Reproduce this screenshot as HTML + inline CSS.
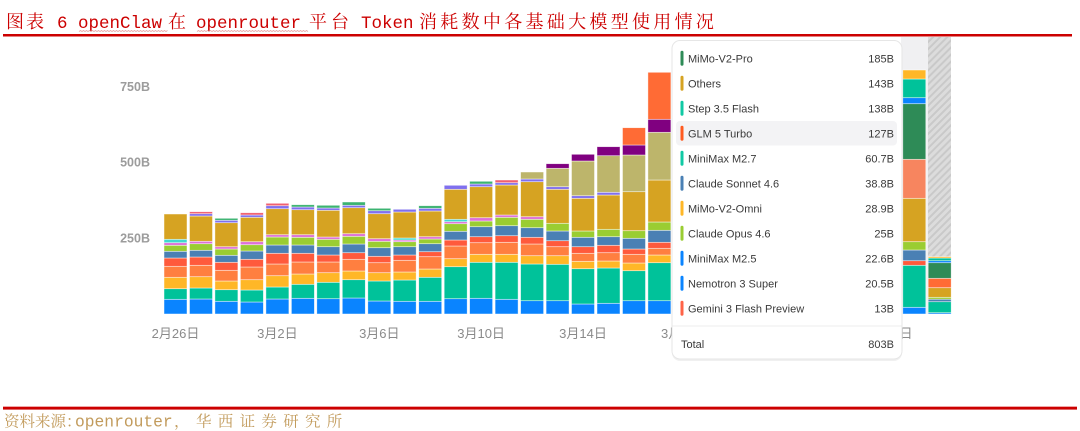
<!DOCTYPE html>
<html>
<head>
<meta charset="utf-8">
<style>
html,body{margin:0;padding:0;background:#fff;}
body{width:1080px;height:431px;overflow:hidden;position:relative;}
svg{display:block;}
.bars rect{stroke:#ffffff;stroke-width:0.7;stroke-opacity:0.65;}
.B{fill:#0a84ff}.T{fill:#00c29a}.Y{fill:#ffb727}.O{fill:#ff7f40}.R{fill:#ff5a3c}
.S{fill:#4a80b4}.G{fill:#9acd32}.P{fill:#dd70d8}.C{fill:#40d9d0}.D{fill:#d6a322}
.M{fill:#8070ee}.RT{fill:#f06070}.GT{fill:#3cb371}.K{fill:#bdb56b}.V{fill:#800080}
.F{fill:#ff6b35}.DG{fill:#2e8b57}.SA{fill:#f7855f}
.ttl{fill:#cc0000;}
.cjk{font-family:"Liberation Serif","Noto Serif CJK SC",serif;font-size:18px;}
.lat{font-family:"Liberation Mono",monospace;font-size:17.5px;}
.ax{font-family:"Liberation Sans","Noto Sans CJK SC",sans-serif;font-size:13px;fill:#8a8a8a;}
.ay{font-family:"Liberation Sans",sans-serif;font-size:12.5px;font-weight:bold;fill:#9c9c9c;}
.tt{font-family:"Liberation Sans",sans-serif;font-size:11px;fill:#3a3a3a;}
.ft{fill:#c29b5c;}
.fc{font-family:"Liberation Serif","Noto Serif CJK SC",serif;font-size:15.5px;}
.fl{font-family:"Liberation Mono",monospace;font-size:16.3px;}
</style>
</head>
<body>
<svg width="1080" height="431" viewBox="0 0 1080 431" xmlns="http://www.w3.org/2000/svg">
<defs>
<pattern id="hatch" width="5" height="5" patternUnits="userSpaceOnUse" patternTransform="rotate(45)">
<rect width="5" height="5" fill="#dcdcdc"/>
<rect width="2" height="5" fill="#c9c9c9"/>
</pattern>
</defs>

<!-- Title -->
<text class="ttl cjk" x="6" y="28" letter-spacing="2">图表</text>
<text class="ttl lat" x="57" y="28">6</text>
<text class="ttl lat" x="78" y="28">openClaw</text>
<text class="ttl cjk" x="168" y="28">在</text>
<text class="ttl lat" x="196" y="28">openrouter</text>
<text class="ttl cjk" x="309" y="28" letter-spacing="4">平台</text>
<text class="ttl lat" x="361" y="28">Token</text>
<text class="ttl cjk" x="419" y="28" letter-spacing="3.3">消耗数中各基础大模型使用情况</text>
<path d="M79 31.5 l1.5 -1 l1.5 1 l1.5 -1 l1.5 1 l1.5 -1 l1.5 1 l1.5 -1 l1.5 1 l1.5 -1 l1.5 1 l1.5 -1 l1.5 1 l1.5 -1 l1.5 1 l1.5 -1 l1.5 1 l1.5 -1 l1.5 1 l1.5 -1 l1.5 1 l1.5 -1 l1.5 1 l1.5 -1 l1.5 1 l1.5 -1 l1.5 1 l1.5 -1 l1.5 1 l1.5 -1 l1.5 1 l1.5 -1 l1.5 1 l1.5 -1 l1.5 1 l1.5 -1 l1.5 1 l1.5 -1 l1.5 1 l1.5 -1 l1.5 1 l1.5 -1 l1.5 1 l1.5 -1 l1.5 1 l1.5 -1 l1.5 1 l1.5 -1 l1.5 1 l1.5 -1 l1.5 1 l1.5 -1 l1.5 1 l1.5 -1 l1.5 1 l1.5 -1 l1.5 1 l1.5 -1 l1.5 1 l1.5 -1" fill="none" stroke="#e8a4a4" stroke-width="0.8"/>
<path d="M197 31.5 l1.5 -1 l1.5 1 l1.5 -1 l1.5 1 l1.5 -1 l1.5 1 l1.5 -1 l1.5 1 l1.5 -1 l1.5 1 l1.5 -1 l1.5 1 l1.5 -1 l1.5 1 l1.5 -1 l1.5 1 l1.5 -1 l1.5 1 l1.5 -1 l1.5 1 l1.5 -1 l1.5 1 l1.5 -1 l1.5 1 l1.5 -1 l1.5 1 l1.5 -1 l1.5 1 l1.5 -1 l1.5 1 l1.5 -1 l1.5 1 l1.5 -1 l1.5 1 l1.5 -1 l1.5 1 l1.5 -1 l1.5 1 l1.5 -1 l1.5 1 l1.5 -1 l1.5 1 l1.5 -1 l1.5 1 l1.5 -1 l1.5 1 l1.5 -1 l1.5 1 l1.5 -1 l1.5 1 l1.5 -1 l1.5 1 l1.5 -1 l1.5 1 l1.5 -1 l1.5 1 l1.5 -1 l1.5 1 l1.5 -1 l1.5 1 l1.5 -1 l1.5 1 l1.5 -1 l1.5 1 l1.5 -1 l1.5 1 l1.5 -1 l1.5 1 l1.5 -1 l1.5 1 l1.5 -1 l1.5 1 l1.5 -1 l1.5 1" fill="none" stroke="#e8a4a4" stroke-width="0.8"/>
<rect x="3" y="34" width="1069" height="2.5" fill="#cc0000"/>

<!-- Y axis labels -->
<text class="ay" x="150" y="91" text-anchor="end">750B</text>
<text class="ay" x="150" y="166.5" text-anchor="end">500B</text>
<text class="ay" x="150" y="242.5" text-anchor="end">250B</text>

<!-- X axis labels -->
<text class="ax" x="175.5" y="338" text-anchor="middle">2月26日</text>
<text class="ax" x="277.4" y="338" text-anchor="middle">3月2日</text>
<text class="ax" x="379.3" y="338" text-anchor="middle">3月6日</text>
<text class="ax" x="481.1" y="338" text-anchor="middle">3月10日</text>
<text class="ax" x="583" y="338" text-anchor="middle">3月14日</text>
<text class="ax" x="684.9" y="338" text-anchor="middle">3月18日</text>
<text class="ax" x="888.7" y="338" text-anchor="middle">3月26日</text>

<!-- hover column & hatched column -->
<rect x="901" y="37" width="27" height="277" fill="#f0f0f2"/>
<rect x="928" y="37" width="23" height="277" fill="url(#hatch)"/>

<g class="bars">
<g transform="translate(164,0)">
<rect class="B" x="0" y="299.3" width="23" height="14.7"/><rect class="T" x="0" y="288.7" width="23" height="10.6"/><rect class="Y" x="0" y="277.3" width="23" height="11.4"/><rect class="O" x="0" y="266.3" width="23" height="11"/><rect class="R" x="0" y="258" width="23" height="8.3"/><rect class="S" x="0" y="251.3" width="23" height="6.7"/><rect class="G" x="0" y="245.3" width="23" height="6"/><rect class="P" x="0" y="242.7" width="23" height="2.6"/><rect class="C" x="0" y="239.3" width="23" height="3.4"/><rect class="D" x="0" y="214" width="23" height="25.3"/>
</g>
<g transform="translate(189.5,0)">
<rect class="B" x="0" y="299" width="23" height="15"/><rect class="T" x="0" y="288" width="23" height="11"/><rect class="Y" x="0" y="276.7" width="23" height="11.3"/><rect class="O" x="0" y="265.3" width="23" height="11.4"/><rect class="R" x="0" y="257" width="23" height="8.3"/><rect class="S" x="0" y="250.3" width="23" height="6.7"/><rect class="G" x="0" y="243.7" width="23" height="6.6"/><rect class="P" x="0" y="241.3" width="23" height="2.4"/><rect class="D" x="0" y="216" width="23" height="25.3"/><rect class="M" x="0" y="213.7" width="23" height="2.3"/><rect class="RT" x="0" y="211.7" width="23" height="2"/>
</g>
<g transform="translate(214.9,0)">
<rect class="B" x="0" y="301.3" width="23" height="12.7"/><rect class="T" x="0" y="289.7" width="23" height="11.6"/><rect class="Y" x="0" y="281" width="23" height="8.7"/><rect class="O" x="0" y="270.3" width="23" height="10.7"/><rect class="R" x="0" y="262.3" width="23" height="8"/><rect class="S" x="0" y="255.3" width="23" height="7"/><rect class="G" x="0" y="249" width="23" height="6.3"/><rect class="P" x="0" y="246.7" width="23" height="2.3"/><rect class="D" x="0" y="222.7" width="23" height="24"/><rect class="M" x="0" y="220.3" width="23" height="2.4"/><rect class="GT" x="0" y="218.3" width="23" height="2"/>
</g>
<g transform="translate(240.4,0)">
<rect class="B" x="0" y="302" width="23" height="12"/><rect class="T" x="0" y="290" width="23" height="12"/><rect class="Y" x="0" y="279.7" width="23" height="10.3"/><rect class="O" x="0" y="267" width="23" height="12.7"/><rect class="R" x="0" y="259.3" width="23" height="7.7"/><rect class="S" x="0" y="251" width="23" height="8.3"/><rect class="G" x="0" y="244.7" width="23" height="6.3"/><rect class="P" x="0" y="241.7" width="23" height="3"/><rect class="D" x="0" y="217.3" width="23" height="24.4"/><rect class="M" x="0" y="215" width="23" height="2.3"/><rect class="RT" x="0" y="212.7" width="23" height="2.3"/>
</g>
<g transform="translate(265.9,0)">
<rect class="B" x="0" y="299" width="23" height="15"/><rect class="T" x="0" y="287" width="23" height="12"/><rect class="Y" x="0" y="275.7" width="23" height="11.3"/><rect class="O" x="0" y="264" width="23" height="11.7"/><rect class="R" x="0" y="253.3" width="23" height="10.7"/><rect class="S" x="0" y="245" width="23" height="8.3"/><rect class="G" x="0" y="237" width="23" height="8"/><rect class="P" x="0" y="234.7" width="23" height="2.3"/><rect class="D" x="0" y="208.7" width="23" height="26"/><rect class="M" x="0" y="205.7" width="23" height="3"/><rect class="RT" x="0" y="203.3" width="23" height="2.4"/>
</g>
<g transform="translate(291.4,0)">
<rect class="B" x="0" y="298.3" width="23" height="15.7"/><rect class="T" x="0" y="284.3" width="23" height="14"/><rect class="Y" x="0" y="274" width="23" height="10.3"/><rect class="O" x="0" y="262" width="23" height="12"/><rect class="R" x="0" y="253.3" width="23" height="8.7"/><rect class="S" x="0" y="245" width="23" height="8.3"/><rect class="G" x="0" y="237.3" width="23" height="7.7"/><rect class="P" x="0" y="234.7" width="23" height="2.6"/><rect class="D" x="0" y="209.7" width="23" height="25"/><rect class="M" x="0" y="207" width="23" height="2.7"/><rect class="GT" x="0" y="204.7" width="23" height="2.3"/>
</g>
<g transform="translate(316.8,0)">
<rect class="B" x="0" y="298.7" width="23" height="15.3"/><rect class="T" x="0" y="282.3" width="23" height="16.4"/><rect class="Y" x="0" y="272.7" width="23" height="9.6"/><rect class="O" x="0" y="262" width="23" height="10.7"/><rect class="R" x="0" y="255" width="23" height="7"/><rect class="S" x="0" y="246.7" width="23" height="8.3"/><rect class="G" x="0" y="239.3" width="23" height="7.4"/><rect class="P" x="0" y="237" width="23" height="2.3"/><rect class="D" x="0" y="210.3" width="23" height="26.7"/><rect class="M" x="0" y="208" width="23" height="2.3"/><rect class="GT" x="0" y="205.3" width="23" height="2.7"/>
</g>
<g transform="translate(342.3,0)">
<rect class="B" x="0" y="298" width="23" height="16"/><rect class="T" x="0" y="279.7" width="23" height="18.3"/><rect class="Y" x="0" y="271" width="23" height="8.7"/><rect class="O" x="0" y="259.3" width="23" height="11.7"/><rect class="R" x="0" y="252.7" width="23" height="6.6"/><rect class="S" x="0" y="244" width="23" height="8.7"/><rect class="G" x="0" y="236.3" width="23" height="7.7"/><rect class="P" x="0" y="233.7" width="23" height="2.6"/><rect class="D" x="0" y="207.7" width="23" height="26"/><rect class="M" x="0" y="205.3" width="23" height="2.4"/><rect class="GT" x="0" y="202" width="23" height="3.3"/>
</g>
<g transform="translate(367.8,0)">
<rect class="B" x="0" y="301" width="23" height="13"/><rect class="T" x="0" y="281" width="23" height="20"/><rect class="Y" x="0" y="272.7" width="23" height="8.3"/><rect class="O" x="0" y="262.7" width="23" height="10"/><rect class="R" x="0" y="256.3" width="23" height="6.4"/><rect class="S" x="0" y="247.7" width="23" height="8.6"/><rect class="G" x="0" y="241.3" width="23" height="6.4"/><rect class="P" x="0" y="238.7" width="23" height="2.6"/><rect class="D" x="0" y="213.7" width="23" height="25"/><rect class="M" x="0" y="210.7" width="23" height="3"/><rect class="GT" x="0" y="208.3" width="23" height="2.4"/>
</g>
<g transform="translate(393.2,0)">
<rect class="B" x="0" y="301.3" width="23" height="12.7"/><rect class="T" x="0" y="280" width="23" height="21.3"/><rect class="Y" x="0" y="272" width="23" height="8"/><rect class="O" x="0" y="260.3" width="23" height="11.7"/><rect class="R" x="0" y="255" width="23" height="5.3"/><rect class="S" x="0" y="246.7" width="23" height="8.3"/><rect class="G" x="0" y="241.7" width="23" height="5"/><rect class="P" x="0" y="240" width="23" height="1.7"/><rect class="C" x="0" y="238" width="23" height="2"/><rect class="D" x="0" y="212" width="23" height="26"/><rect class="M" x="0" y="209.3" width="23" height="2.7"/>
</g>
<g transform="translate(418.7,0)">
<rect class="B" x="0" y="301.3" width="23" height="12.7"/><rect class="T" x="0" y="277.3" width="23" height="24"/><rect class="Y" x="0" y="269" width="23" height="8.3"/><rect class="O" x="0" y="256.7" width="23" height="12.3"/><rect class="R" x="0" y="251.7" width="23" height="5"/><rect class="S" x="0" y="243.7" width="23" height="8"/><rect class="G" x="0" y="239" width="23" height="4.7"/><rect class="P" x="0" y="236.7" width="23" height="2.3"/><rect class="D" x="0" y="211" width="23" height="25.7"/><rect class="M" x="0" y="208.3" width="23" height="2.7"/><rect class="GT" x="0" y="205.7" width="23" height="2.6"/>
</g>
<g transform="translate(444.2,0)">
<rect class="B" x="0" y="298.7" width="23" height="15.3"/><rect class="T" x="0" y="266.7" width="23" height="32"/><rect class="Y" x="0" y="258.7" width="23" height="8"/><rect class="O" x="0" y="246" width="23" height="12.7"/><rect class="R" x="0" y="240" width="23" height="6"/><rect class="S" x="0" y="231.3" width="23" height="8.7"/><rect class="G" x="0" y="223.7" width="23" height="7.6"/><rect class="P" x="0" y="221.7" width="23" height="2"/><rect class="C" x="0" y="219.3" width="23" height="2.4"/><rect class="D" x="0" y="189.3" width="23" height="30"/><rect class="M" x="0" y="185.3" width="23" height="4"/>
</g>
<g transform="translate(469.6,0)">
<rect class="B" x="0" y="298.3" width="23" height="15.7"/><rect class="T" x="0" y="262.3" width="23" height="36"/><rect class="Y" x="0" y="254.3" width="23" height="8"/><rect class="O" x="0" y="242.7" width="23" height="11.6"/><rect class="R" x="0" y="236.7" width="23" height="6"/><rect class="S" x="0" y="226.7" width="23" height="10"/><rect class="G" x="0" y="221" width="23" height="5.7"/><rect class="P" x="0" y="217.7" width="23" height="3.3"/><rect class="D" x="0" y="186.7" width="23" height="31"/><rect class="M" x="0" y="184" width="23" height="2.7"/><rect class="GT" x="0" y="181.3" width="23" height="2.7"/>
</g>
<g transform="translate(495.1,0)">
<rect class="B" x="0" y="299.3" width="23" height="14.7"/><rect class="T" x="0" y="262.3" width="23" height="37"/><rect class="Y" x="0" y="254.3" width="23" height="8"/><rect class="O" x="0" y="242.3" width="23" height="12"/><rect class="R" x="0" y="235.7" width="23" height="6.6"/><rect class="S" x="0" y="225.7" width="23" height="10"/><rect class="G" x="0" y="217.3" width="23" height="8.4"/><rect class="P" x="0" y="215" width="23" height="2.3"/><rect class="D" x="0" y="185" width="23" height="30"/><rect class="M" x="0" y="182.7" width="23" height="2.3"/><rect class="RT" x="0" y="180" width="23" height="2.7"/>
</g>
<g transform="translate(520.6,0)">
<rect class="B" x="0" y="300.7" width="23" height="13.3"/><rect class="T" x="0" y="264" width="23" height="36.7"/><rect class="Y" x="0" y="255.7" width="23" height="8.3"/><rect class="O" x="0" y="244" width="23" height="11.7"/><rect class="R" x="0" y="237.3" width="23" height="6.7"/><rect class="S" x="0" y="227.7" width="23" height="9.6"/><rect class="G" x="0" y="219.3" width="23" height="8.4"/><rect class="P" x="0" y="216.7" width="23" height="2.6"/><rect class="D" x="0" y="181.7" width="23" height="35"/><rect class="M" x="0" y="179" width="23" height="2.7"/><rect class="K" x="0" y="172" width="23" height="7"/>
</g>
<g transform="translate(546.1,0)">
<rect class="B" x="0" y="300.7" width="23" height="13.3"/><rect class="T" x="0" y="264.3" width="23" height="36.4"/><rect class="Y" x="0" y="255.7" width="23" height="8.6"/><rect class="O" x="0" y="246.7" width="23" height="9"/><rect class="R" x="0" y="240.7" width="23" height="6"/><rect class="S" x="0" y="231" width="23" height="9.7"/><rect class="G" x="0" y="223.3" width="23" height="7.7"/><rect class="D" x="0" y="189.3" width="23" height="34"/><rect class="M" x="0" y="186.7" width="23" height="2.6"/><rect class="K" x="0" y="168.3" width="23" height="18.4"/><rect class="V" x="0" y="163.7" width="23" height="4.6"/>
</g>
<g transform="translate(571.5,0)">
<rect class="B" x="0" y="304" width="23" height="10"/><rect class="T" x="0" y="268.7" width="23" height="35.3"/><rect class="Y" x="0" y="261.3" width="23" height="7.4"/><rect class="O" x="0" y="253.3" width="23" height="8"/><rect class="R" x="0" y="246.7" width="23" height="6.6"/><rect class="S" x="0" y="237.3" width="23" height="9.4"/><rect class="G" x="0" y="231" width="23" height="6.3"/><rect class="D" x="0" y="198.3" width="23" height="32.7"/><rect class="M" x="0" y="195.7" width="23" height="2.6"/><rect class="K" x="0" y="161" width="23" height="34.7"/><rect class="V" x="0" y="154.3" width="23" height="6.7"/>
</g>
<g transform="translate(597,0)">
<rect class="B" x="0" y="303.3" width="23" height="10.7"/><rect class="T" x="0" y="268" width="23" height="35.3"/><rect class="Y" x="0" y="261" width="23" height="7"/><rect class="O" x="0" y="252.7" width="23" height="8.3"/><rect class="R" x="0" y="245.3" width="23" height="7.4"/><rect class="S" x="0" y="236.7" width="23" height="8.6"/><rect class="G" x="0" y="229.3" width="23" height="7.4"/><rect class="D" x="0" y="195" width="23" height="34.3"/><rect class="M" x="0" y="192.3" width="23" height="2.7"/><rect class="K" x="0" y="155.7" width="23" height="36.6"/><rect class="V" x="0" y="146.7" width="23" height="9"/>
</g>
<g transform="translate(622.5,0)">
<rect class="B" x="0" y="300.7" width="23" height="13.3"/><rect class="T" x="0" y="270.7" width="23" height="30"/><rect class="Y" x="0" y="263" width="23" height="7.7"/><rect class="O" x="0" y="254.3" width="23" height="8.7"/><rect class="R" x="0" y="249" width="23" height="5.3"/><rect class="S" x="0" y="238.3" width="23" height="10.7"/><rect class="G" x="0" y="230.7" width="23" height="7.6"/><rect class="D" x="0" y="191.7" width="23" height="39"/><rect class="K" x="0" y="155" width="23" height="36.7"/><rect class="V" x="0" y="145" width="23" height="10"/><rect class="F" x="0" y="127.7" width="23" height="17.3"/>
</g>
<g transform="translate(647.9,0)">
<rect class="B" x="0" y="300.7" width="23" height="13.3"/><rect class="T" x="0" y="262.7" width="23" height="38"/><rect class="Y" x="0" y="255" width="23" height="7.7"/><rect class="O" x="0" y="248.3" width="23" height="6.7"/><rect class="R" x="0" y="242.3" width="23" height="6"/><rect class="S" x="0" y="230.3" width="23" height="12"/><rect class="G" x="0" y="222" width="23" height="8.3"/><rect class="D" x="0" y="180" width="23" height="42"/><rect class="K" x="0" y="132.3" width="23" height="47.7"/><rect class="V" x="0" y="119.3" width="23" height="13"/><rect class="F" x="0" y="72.3" width="23" height="47"/>
</g>
<g transform="translate(902.8,0)">
<rect class="B" x="0" y="307.3" width="23" height="6.7"/><rect class="T" x="0" y="265.3" width="23" height="42"/><rect class="R" x="0" y="260.7" width="23" height="4.6"/><rect class="S" x="0" y="250" width="23" height="10.7"/><rect class="G" x="0" y="241.7" width="23" height="8.3"/><rect class="D" x="0" y="198.3" width="23" height="43.4"/><rect class="SA" x="0" y="159.3" width="23" height="39"/><rect class="DG" x="0" y="103.7" width="23" height="55.6"/><rect class="B" x="0" y="97.7" width="23" height="6"/><rect class="T" x="0" y="79" width="23" height="18.7"/><rect class="Y" x="0" y="70" width="23" height="9"/>
</g>
<g transform="translate(928.2,0)">
<rect class="B" x="0" y="312.7" width="23" height="1.3"/><rect class="T" x="0" y="301.7" width="23" height="11"/><rect class="S" x="0" y="299.2" width="23" height="2.5"/><rect class="G" x="0" y="297.3" width="23" height="1.9"/><rect class="D" x="0" y="287.7" width="23" height="9.6"/><rect class="F" x="0" y="278.3" width="23" height="9.4"/><rect class="DG" x="0" y="262.7" width="23" height="15.6"/><rect class="B" x="0" y="260.7" width="23" height="2"/><rect class="T" x="0" y="258" width="23" height="2.7"/><rect class="Y" x="0" y="256.7" width="23" height="1.3"/>
</g>
</g>

<!-- Tooltip -->
<g>
<rect x="672" y="41" width="230" height="318" rx="8" ry="8" fill="#000" opacity="0.06" transform="translate(0,2)"/>
<rect x="672" y="40.5" width="230" height="318.5" rx="8" ry="8" fill="#fff" stroke="#e6e6e6" stroke-width="1"/>
<rect x="676" y="121" width="221" height="24.5" rx="4" ry="4" fill="#f3f3f5"/>

<rect x="680.5" y="50.8" width="3" height="15" rx="1.5" fill="#2e8b57"/>
<text class="tt" x="688" y="62.3">MiMo-V2-Pro</text><text class="tt" x="894" y="62.3" text-anchor="end">185B</text>

<rect x="680.5" y="75.8" width="3" height="15" rx="1.5" fill="#d6a322"/>
<text class="tt" x="688" y="87.3">Others</text><text class="tt" x="894" y="87.3" text-anchor="end">143B</text>

<rect x="680.5" y="100.8" width="3" height="15" rx="1.5" fill="#10c9a4"/>
<text class="tt" x="688" y="112.3">Step 3.5 Flash</text><text class="tt" x="894" y="112.3" text-anchor="end">138B</text>

<rect x="680.5" y="125.8" width="3" height="15" rx="1.5" fill="#ff5a1f"/>
<text class="tt" x="688" y="137.3">GLM 5 Turbo</text><text class="tt" x="894" y="137.3" text-anchor="end">127B</text>

<rect x="680.5" y="150.8" width="3" height="15" rx="1.5" fill="#10c9a4"/>
<text class="tt" x="688" y="162.3">MiniMax M2.7</text><text class="tt" x="894" y="162.3" text-anchor="end">60.7B</text>

<rect x="680.5" y="175.8" width="3" height="15" rx="1.5" fill="#4a80b4"/>
<text class="tt" x="688" y="187.3">Claude Sonnet 4.6</text><text class="tt" x="894" y="187.3" text-anchor="end">38.8B</text>

<rect x="680.5" y="200.8" width="3" height="15" rx="1.5" fill="#ffb727"/>
<text class="tt" x="688" y="212.3">MiMo-V2-Omni</text><text class="tt" x="894" y="212.3" text-anchor="end">28.9B</text>

<rect x="680.5" y="225.8" width="3" height="15" rx="1.5" fill="#9acd32"/>
<text class="tt" x="688" y="237.3">Claude Opus 4.6</text><text class="tt" x="894" y="237.3" text-anchor="end">25B</text>

<rect x="680.5" y="250.8" width="3" height="15" rx="1.5" fill="#0a84ff"/>
<text class="tt" x="688" y="262.3">MiniMax M2.5</text><text class="tt" x="894" y="262.3" text-anchor="end">22.6B</text>

<rect x="680.5" y="275.8" width="3" height="15" rx="1.5" fill="#0a84ff"/>
<text class="tt" x="688" y="287.3">Nemotron 3 Super</text><text class="tt" x="894" y="287.3" text-anchor="end">20.5B</text>

<rect x="680.5" y="300.8" width="3" height="15" rx="1.5" fill="#ff6347"/>
<text class="tt" x="688" y="312.3">Gemini 3 Flash Preview</text><text class="tt" x="894" y="312.3" text-anchor="end">13B</text>

<rect x="672.5" y="325.5" width="229" height="1" fill="#ededed"/>
<text class="tt" x="681" y="348">Total</text><text class="tt" x="894" y="348" text-anchor="end">803B</text>
</g>

<!-- Footer -->
<rect x="3" y="406" width="1074" height="1" fill="#f0a8a8"/>
<rect x="3" y="407" width="1074" height="2.6" fill="#cc0000"/>
<text class="ft fc" x="4" y="426.5">资料来源：</text>
<text class="ft fl" x="75" y="426.5">openrouter</text>
<text class="ft fc" x="174" y="426.5">，</text>
<text class="ft fc" x="196" y="426.5" letter-spacing="6.3">华西证券研究所</text>
</svg>
</body>
</html>
